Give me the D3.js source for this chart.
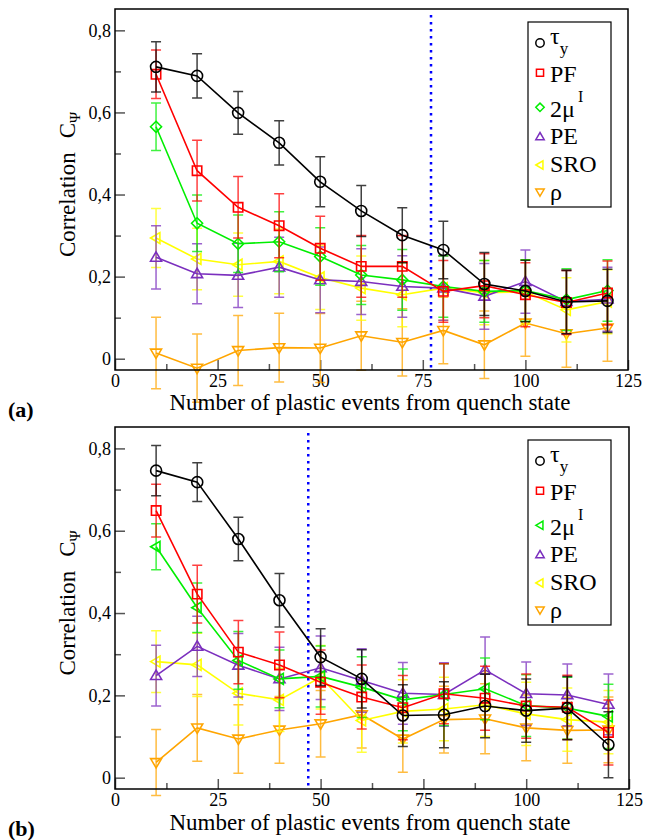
<!DOCTYPE html>
<html>
<head>
<meta charset="utf-8">
<script src="https://cdn.jsdelivr.net/npm/d3@7"></script>
<style>
  body { margin: 0; background: #fff; }
  svg text { font-family: "Liberation Serif", "Nimbus Roman", "Times", "DejaVu Serif", serif; }
</style>
</head>
<body>
<div id="chart"></div>
<script>
// x positions (plastic events)
var events = [10, 20, 30, 40, 50, 60, 70, 80, 90, 100, 110, 120];

// panel (a)
var tauA    = [0.711, 0.689, 0.599, 0.526, 0.431, 0.360, 0.301, 0.265, 0.182, 0.165, 0.138, 0.141];
var tauAErr = [0.061, 0.054, 0.052, 0.054, 0.061, 0.062, 0.067, 0.070, 0.077, 0.075, 0.077, 0.077];
var pfA     = [0.693, 0.458, 0.369, 0.324, 0.269, 0.225, 0.225, 0.164, 0.178, 0.156, 0.137, 0.160];
var pfAErr  = [0.059, 0.074, 0.075, 0.078, 0.078, 0.075, 0.075, 0.075, 0.078, 0.078, 0.078, 0.078];
var muA     = [0.565, 0.330, 0.280, 0.285, 0.249, 0.204, 0.192, 0.176, 0.164, 0.166, 0.144, 0.166];
var muAErr  = [0.058, 0.069, 0.070, 0.073, 0.070, 0.072, 0.074, 0.075, 0.075, 0.075, 0.075, 0.075];
var peA     = [0.247, 0.207, 0.203, 0.223, 0.192, 0.188, 0.176, 0.172, 0.152, 0.188, 0.139, 0.145];
var peAErr  = [0.077, 0.073, 0.078, 0.073, 0.080, 0.080, 0.075, 0.078, 0.080, 0.077, 0.078, 0.078];
var sroA    = [0.294, 0.243, 0.229, 0.237, 0.198, 0.172, 0.156, 0.172, 0.161, 0.163, 0.119, 0.139];
var sroAErr = [0.072, 0.075, 0.077, 0.079, 0.078, 0.078, 0.078, 0.078, 0.078, 0.078, 0.078, 0.078];
var rhoA    = [0.014, -0.023, 0.020, 0.027, 0.026, 0.056, 0.040, 0.069, 0.034, 0.087, 0.061, 0.075];
var rhoAErr = [0.087, 0.083, 0.085, 0.084, 0.084, 0.084, 0.082, 0.081, 0.082, 0.081, 0.082, 0.081];

// panel (b)
var tauB    = [0.746, 0.718, 0.580, 0.431, 0.293, 0.240, 0.151, 0.153, 0.174, 0.163, 0.169, 0.080];
var tauBErr = [0.061, 0.047, 0.053, 0.065, 0.069, 0.071, 0.075, 0.080, 0.077, 0.077, 0.077, 0.080];
var pfB     = [0.649, 0.446, 0.305, 0.274, 0.232, 0.196, 0.170, 0.204, 0.193, 0.174, 0.171, 0.110];
var pfBErr  = [0.064, 0.070, 0.077, 0.080, 0.078, 0.078, 0.078, 0.073, 0.078, 0.078, 0.078, 0.079];
var muB     = [0.561, 0.413, 0.285, 0.240, 0.246, 0.220, 0.189, 0.202, 0.216, 0.175, 0.169, 0.149];
var muBErr  = [0.056, 0.060, 0.070, 0.070, 0.074, 0.074, 0.075, 0.075, 0.075, 0.075, 0.075, 0.078];
var peB     = [0.248, 0.319, 0.273, 0.240, 0.267, 0.236, 0.205, 0.202, 0.262, 0.204, 0.201, 0.178];
var peBErr  = [0.074, 0.073, 0.077, 0.077, 0.077, 0.077, 0.075, 0.077, 0.080, 0.077, 0.075, 0.074];
var sroB    = [0.282, 0.274, 0.205, 0.189, 0.244, 0.139, 0.161, 0.167, 0.177, 0.155, 0.141, 0.135];
var sroBErr = [0.075, 0.077, 0.077, 0.077, 0.077, 0.077, 0.077, 0.077, 0.077, 0.077, 0.077, 0.077];
var rhoB    = [0.037, 0.121, 0.094, 0.116, 0.131, 0.153, 0.094, 0.141, 0.143, 0.121, 0.115, 0.116];
var rhoBErr = [0.080, 0.081, 0.083, 0.081, 0.081, 0.081, 0.081, 0.081, 0.085, 0.080, 0.080, 0.080];

// dotted vertical marker
var markerA = 77, markerB = 47;

var xTicks = [0, 25, 50, 75, 100, 125];
var xMinor = [12.5, 37.5, 62.5, 87.5, 112.5];
var yTicks = [0, 0.2, 0.4, 0.6, 0.8];
var yMinor = [0.1, 0.3, 0.5, 0.7];

var W = 657, H = 840;
var serif = "'Liberation Serif', 'Nimbus Roman', Times, 'DejaVu Serif', serif";
var colors = { tau: "#000000", pf: "#ff0000", mu: "#00ee00", pe: "#7b2fbe", sro: "#ffff00", rho: "#ffa500" };

function series(key, vals, errs, sym) {
	return { key: key, color: colors[key], sym: sym,
		pts: events.map(function (x, i) { return { x: x, y: vals[i], e: errs[i] }; }) };
}

var panels = [
	{ top: 9, bottom: 370, left: 115, right: 628, marker: markerA, tag: "(a)", tagY: 417, titleY: 410, legY: 22,
	  sets: [series("tau", tauA, tauAErr, "circle"), series("pf", pfA, pfAErr, "square"),
	         series("mu", muA, muAErr, "diamond"), series("pe", peA, peAErr, "up"),
	         series("sro", sroA, sroAErr, "left"), series("rho", rhoA, rhoAErr, "down")] },
	{ top: 427, bottom: 789, left: 115, right: 629, marker: markerB, tag: "(b)", tagY: 836, titleY: 830, legY: 440,
	  sets: [series("tau", tauB, tauBErr, "circle"), series("pf", pfB, pfBErr, "square"),
	         series("mu", muB, muBErr, "left"), series("pe", peB, peBErr, "up"),
	         series("sro", sroB, sroBErr, "left"), series("rho", rhoB, rhoBErr, "down")] }
];

function symbolPath(type, s) {
	switch (type) {
		case "circle":
			return "M" + (-s) + ",0a" + s + "," + s + " 0 1,0 " + (2 * s) + ",0a" + s + "," + s + " 0 1,0 " + (-2 * s) + ",0Z";
		case "square":
			var q = s * 0.85;
			return "M" + (-q) + "," + (-q) + "H" + q + "V" + q + "H" + (-q) + "Z";
		case "diamond":
			return "M0," + (-s) + "L" + s + ",0L0," + s + "L" + (-s) + ",0Z";
		case "up":
			return "M0," + (-s) + "L" + s + "," + (s * 0.7) + "L" + (-s) + "," + (s * 0.7) + "Z";
		case "down":
			return "M0," + s + "L" + s + "," + (-s * 0.7) + "L" + (-s) + "," + (-s * 0.7) + "Z";
		case "left":
			return "M" + (-s) + ",0L" + (s * 0.7) + "," + (-s) + "L" + (s * 0.7) + "," + s + "Z";
	}
}

function fmt(d) { return d === 0 ? "0" : d.toFixed(1).replace(".", ","); }

var svg = d3.select("#chart").append("svg").attr("width", W).attr("height", H);

panels.forEach(function (p) {
	var x = d3.scaleLinear().domain([0, 125]).range([p.left, p.right]);
	var y = d3.scaleLinear().domain([-0.0275, 0.852]).range([p.bottom, p.top]);
	var g = svg.append("g");

	// ticks point inward
	var xMaj = g.append("g").attr("transform", "translate(0," + p.bottom + ")")
		.call(d3.axisBottom(x).tickValues(xTicks).tickSize(-10).tickPadding(4).tickFormat(d3.format("d")));
	var xMin = g.append("g").attr("transform", "translate(0," + p.bottom + ")")
		.call(d3.axisBottom(x).tickValues(xMinor).tickSize(-6).tickFormat(""));
	var yMaj = g.append("g").attr("transform", "translate(" + p.left + ",0)")
		.call(d3.axisLeft(y).tickValues(yTicks).tickSize(-10).tickPadding(4).tickFormat(fmt));
	var yMin = g.append("g").attr("transform", "translate(" + p.left + ",0)")
		.call(d3.axisLeft(y).tickValues(yMinor).tickSize(-6).tickFormat(""));
	xMin.selectAll("text").remove();
	yMin.selectAll("text").remove();
	g.selectAll(".domain").remove();
	g.selectAll(".tick line").attr("stroke", "#555").attr("stroke-width", 1.5);
	[xMaj, yMaj].forEach(function (a) { a.attr("font-family", serif).attr("font-size", 18); });
	xMaj.selectAll("text").attr("fill", "#000");
	yMaj.selectAll("text").attr("fill", "#000");

	// dotted marker
	g.append("line")
		.attr("x1", x(p.marker)).attr("x2", x(p.marker))
		.attr("y1", p.top + 6).attr("y2", p.bottom)
		.attr("stroke", "#0000ff").attr("stroke-width", 2.5)
		.attr("stroke-dasharray", "2.5,4.5");

	var line = d3.line().x(function (d) { return x(d.x); }).y(function (d) { return y(d.y); });

	p.sets.slice().reverse().forEach(function (s) {
		var sg = g.append("g");
		// error bars
		sg.selectAll("path.err").data(s.pts).enter().append("path")
			.attr("class", "err")
			.attr("d", function (d) {
				var cx = x(d.x), y0 = y(d.y - d.e), y1 = y(d.y + d.e);
				return "M" + cx + "," + y0 + "V" + y1 +
					"M" + (cx - 5) + "," + y0 + "H" + (cx + 5) +
					"M" + (cx - 5) + "," + y1 + "H" + (cx + 5);
			})
			.attr("fill", "none").attr("stroke", s.color).attr("stroke-width", 1.5)
			.attr("stroke-opacity", 0.75);
		sg.append("path").datum(s.pts).attr("d", line)
			.attr("fill", "none").attr("stroke", s.color).attr("stroke-width", 1.6);
		sg.selectAll("path.sym").data(s.pts).enter().append("path")
			.attr("class", "sym")
			.attr("transform", function (d) { return "translate(" + x(d.x) + "," + y(d.y) + ")"; })
			.attr("d", symbolPath(s.sym, 5.5))
			.attr("fill", "none").attr("stroke", s.color).attr("stroke-width", 1.6);
	});

	// frame
	g.append("rect")
		.attr("x", p.left).attr("y", p.top)
		.attr("width", p.right - p.left).attr("height", p.bottom - p.top)
		.attr("fill", "none").attr("stroke", "#000").attr("stroke-width", 1.5);

	// y label
	var yl = g.append("text")
		.attr("transform", "translate(75," + ((p.top + p.bottom) / 2 - 5) + ") rotate(-90)")
		.attr("text-anchor", "middle").attr("font-size", 23);
	yl.append("tspan").text("Correlation");
	yl.append("tspan").attr("dx", 14).text("C");
	yl.append("tspan").attr("font-size", 15).attr("dy", 5).text("Ψ");

	// x label
	g.append("text").attr("x", 370).attr("y", p.titleY)
		.attr("text-anchor", "middle").attr("font-size", 23)
		.text("Number of plastic events from quench state");
	g.append("text").attr("x", 8).attr("y", p.tagY)
		.attr("font-size", 22).attr("font-weight", "bold").text(p.tag);

	// legend
	var leg = g.append("g").attr("transform", "translate(528," + p.legY + ")");
	leg.append("rect").attr("width", 83).attr("height", 185)
		.attr("fill", "#fff").attr("stroke", "#000").attr("stroke-width", 1.2);
	var symY = [21, 50.7, 85.3, 114.7, 143, 170];
	p.sets.forEach(function (s, i) {
		leg.append("path")
			.attr("transform", "translate(12," + symY[i] + ")")
			.attr("d", symbolPath(s.sym, 4.2))
			.attr("fill", "none").attr("stroke", s.color).attr("stroke-width", 1.5);
	});
	var fs = 24;
	var t0 = leg.append("text").attr("x", 22).attr("y", 22).attr("font-size", fs);
	t0.append("tspan").text("τ");
	t0.append("tspan").attr("font-size", 17).attr("dy", 10).text("y");
	leg.append("text").attr("x", 22).attr("y", 60).attr("font-size", fs).text("PF");
	var t2 = leg.append("text").attr("x", 22).attr("y", 95).attr("font-size", fs);
	t2.append("tspan").text("2μ");
	t2.append("tspan").attr("font-size", 16).attr("dx", 3).attr("dy", -15).text("I");
	leg.append("text").attr("x", 22).attr("y", 122).attr("font-size", fs).text("PE");
	leg.append("text").attr("x", 22).attr("y", 150).attr("font-size", fs).text("SRO");
	leg.append("text").attr("x", 22).attr("y", 178).attr("font-size", fs).text("ρ");
});
</script>
</body>
</html>
